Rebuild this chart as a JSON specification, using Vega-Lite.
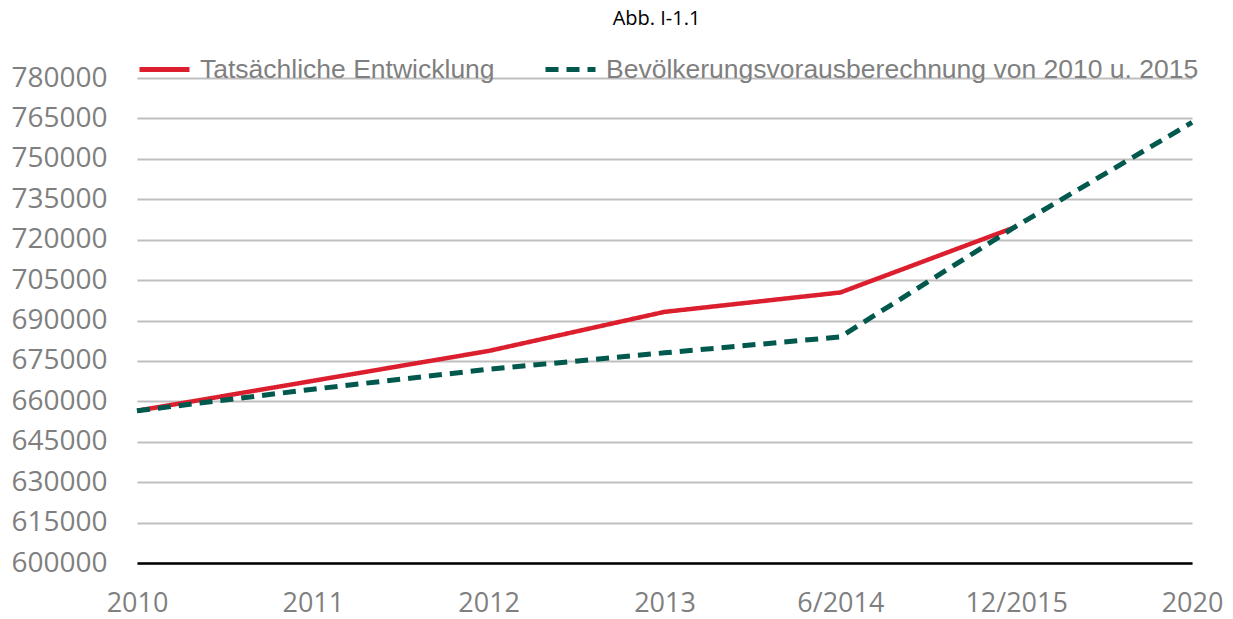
{
  "$schema": "https://vega.github.io/schema/vega-lite/v6.json",
  "autosize": {"type": "none"},
  "width": 1055,
  "height": 485,
  "padding": {"left": 137, "top": 78, "right": 41, "bottom": 56},
  "background": "white",
  "title": {
    "text": "Abb. I-1.1",
    "font": "Open Sans",
    "fontSize": 20,
    "fontWeight": "normal",
    "color": "#000000",
    "anchor": "middle",
    "frame": "group",
    "offset": 13,
    "dx": -8
  },
  "config": {
    "view": {"stroke": null},
    "font": "Liberation Sans"
  },
  "data": {
    "values": [
      {"zeit": "2010", "serie": "Tatsächliche Entwicklung", "wert": 656500},
      {"zeit": "2011", "serie": "Tatsächliche Entwicklung", "wert": 667600},
      {"zeit": "2012", "serie": "Tatsächliche Entwicklung", "wert": 678700},
      {"zeit": "2013", "serie": "Tatsächliche Entwicklung", "wert": 693200},
      {"zeit": "6/2014", "serie": "Tatsächliche Entwicklung", "wert": 700400},
      {"zeit": "12/2015", "serie": "Tatsächliche Entwicklung", "wert": 724800},
      {"zeit": "2010", "serie": "Bevölkerungsvorausberechnung von 2010 u. 2015", "wert": 656500},
      {"zeit": "2011", "serie": "Bevölkerungsvorausberechnung von 2010 u. 2015", "wert": 664500},
      {"zeit": "2012", "serie": "Bevölkerungsvorausberechnung von 2010 u. 2015", "wert": 671900},
      {"zeit": "2013", "serie": "Bevölkerungsvorausberechnung von 2010 u. 2015", "wert": 678000},
      {"zeit": "6/2014", "serie": "Bevölkerungsvorausberechnung von 2010 u. 2015", "wert": 683900},
      {"zeit": "12/2015", "serie": "Bevölkerungsvorausberechnung von 2010 u. 2015", "wert": 725000},
      {"zeit": "2020", "serie": "Bevölkerungsvorausberechnung von 2010 u. 2015", "wert": 763500}
    ]
  },
  "encoding": {
    "x": {
      "field": "zeit",
      "type": "ordinal",
      "sort": ["2010", "2011", "2012", "2013", "6/2014", "12/2015", "2020"],
      "scale": {"type": "point", "padding": 0},
      "axis": {
        "title": null,
        "labelAngle": 0,
        "labelFont": "Open Sans",
        "labelFontSize": 27,
        "labelColor": "#7f7f7f",
        "labelPadding": 27,
        "ticks": false,
        "domain": true,
        "domainColor": "#000000",
        "domainWidth": 2.5,
        "grid": false
      }
    },
    "y": {
      "field": "wert",
      "type": "quantitative",
      "scale": {"domain": [600000, 780000], "nice": false, "zero": false},
      "axis": {
        "title": null,
        "values": [600000, 615000, 630000, 645000, 660000, 675000, 690000, 705000, 720000, 735000, 750000, 765000, 780000],
        "format": "d",
        "labelFont": "Open Sans",
        "labelFontSize": 28,
        "labelColor": "#7f7f7f",
        "labelPadding": 30,
        "ticks": false,
        "domain": false,
        "grid": true,
        "gridColor": "#bfbfbf",
        "gridWidth": 2
      }
    },
    "color": {
      "field": "serie",
      "type": "nominal",
      "scale": {
        "domain": ["Tatsächliche Entwicklung", "Bevölkerungsvorausberechnung von 2010 u. 2015"],
        "range": ["#DC1F2E", "#00594C"]
      },
      "legend": {
        "title": null,
        "orient": "none",
        "direction": "horizontal",
        "legendX": 0,
        "legendY": -36,
        "symbolType": "stroke",
        "symbolSize": 2500,
        "symbolStrokeWidth": 5,
        "labelFont": "Liberation Sans",
        "labelFontSize": 26.5,
        "labelColor": "#7f7f7f",
        "labelOffset": 8,
        "labelLimit": 800,
        "columnPadding": 40
      }
    },
    "strokeDash": {
      "field": "serie",
      "type": "nominal",
      "scale": {
        "domain": ["Tatsächliche Entwicklung", "Bevölkerungsvorausberechnung von 2010 u. 2015"],
        "range": [[1, 0], [13, 8]]
      },
      "legend": null
    }
  },
  "layer": [
    {
      "transform": [{"filter": "datum.serie === 'Tatsächliche Entwicklung'"}],
      "mark": {"type": "line", "strokeWidth": 4.5}
    },
    {
      "transform": [{"filter": "datum.serie !== 'Tatsächliche Entwicklung'"}],
      "mark": {"type": "line", "strokeWidth": 5}
    }
  ]
}
